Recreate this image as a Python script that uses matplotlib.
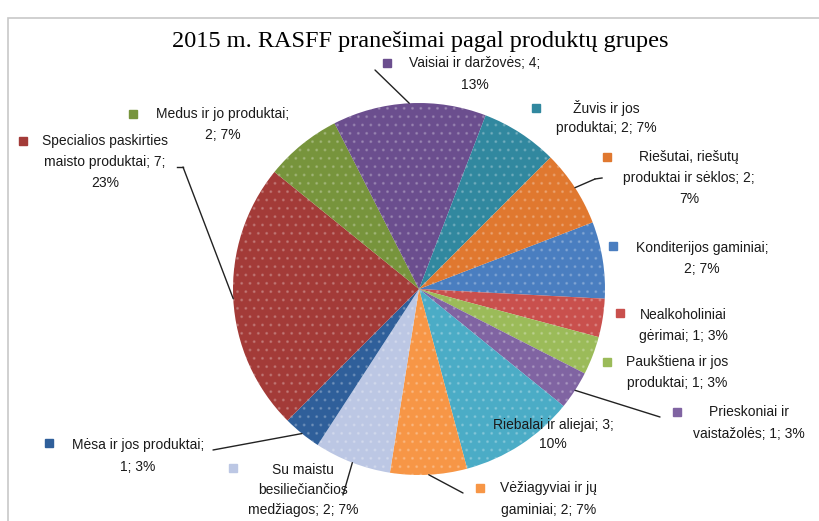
import numpy as np
import matplotlib
matplotlib.use("Agg")
import matplotlib.pyplot as plt
from matplotlib.patches import Rectangle
from matplotlib.lines import Line2D

# data (clockwise, first slice = Konditerijos gaminiai)
categories = ["Konditerijos gaminiai", "Nealkoholiniai gėrimai", "Paukštiena ir jos produktai",
              "Prieskoniai ir vaistažolės", "Riebalai ir aliejai", "Vėžiagyviai ir jų gaminiai",
              "Su maistu besiliečiančios medžiagos", "Mėsa ir jos produktai",
              "Specialios paskirties maisto produktai", "Medus ir jo produktai",
              "Vaisiai ir daržovės", "Žuvis ir jos produktai", "Riešutai, riešutų produktai ir sėklos"]
counts = [2, 1, 1, 1, 3, 2, 2, 1, 7, 2, 4, 2, 2]
colors = ["#4A7EC0", "#C9504D", "#9BBB59", "#8064A2", "#4BACC6", "#F79646",
          "#BCC7E4", "#2F5F9A", "#A33B38", "#77943C", "#6B4E8E", "#31889F", "#E0782F"]

label_lines = [
    ["Konditerijos gaminiai;", "2; 7%"],
    ["Nealkoholiniai", "gėrimai; 1; 3%"],
    ["Paukštiena ir jos", "produktai; 1; 3%"],
    ["Prieskoniai ir", "vaistažolės; 1; 3%"],
    ["Riebalai ir aliejai; 3;", "10%"],
    ["Vėžiagyviai ir jų", "gaminiai; 2; 7%"],
    ["Su maistu", "besiliečiančios", "medžiagos; 2; 7%"],
    ["Mėsa ir jos produktai;", "1; 3%"],
    ["Specialios paskirties", "maisto produktai; 7;", "23%"],
    ["Medus ir jo produktai;", "2; 7%"],
    ["Vaisiai ir daržovės; 4;", "13%"],
    ["Žuvis ir jos", "produktai; 2; 7%"],
    ["Riešutai, riešutų", "produktai ir sėklos; 2;", "7%"],
]

W, H = 820, 521
fig = plt.figure(figsize=(W / 100, H / 100), dpi=100)

def fx(x):
    return x / W

def fy(y):
    return 1 - y / H

# chart frame
fig.add_artist(Rectangle((fx(8), fy(530)), 1, fy(18) - fy(530), transform=fig.transFigure,
                         fill=False, edgecolor="#c8c8c8", lw=1.2))

fig.text(fx(420), fy(42), "2015 m. RASFF pranešimai pagal produktų grupes",
         family="Liberation Serif", fontsize=17.5, ha="center", va="center")

# pie, centre (419, 289), radius 186 px
cx, cy, r = 419, 289, 186
ax = fig.add_axes([fx(cx - r), fy(cy + r), 2 * r / W, 2 * r / H])
wedges, _ = ax.pie(counts, colors=colors, startangle=21, counterclock=False,
                   wedgeprops=dict(linewidth=0))
for w in wedges:
    w.set_hatch("..")
    w.set_edgecolor((1, 1, 1, 0.18))
    w.set_linewidth(0)
ax.set_xlim(-1, 1)
ax.set_ylim(-1, 1)
ax.axis("off")

# label layout: key square position, text centre x, first line y (pixels from top)
label_pos = [
    ((613, 246), 702, 248),
    ((620, 313), 683, 315),
    ((607, 362), 677, 362),
    ((677, 412), 749, 412),
    (None, 553, 425),
    ((480, 488), 549, 488),
    ((233, 468), 303, 470),
    ((49, 443), 138, 445),
    ((23, 141), 105, 141),
    ((133, 114), 223, 114),
    ((387, 63), 475, 63),
    ((536, 108), 606, 108),
    ((607, 157), 689, 157),
]
line_gap = [21, 21, 21, 22, 19, 22, 20, 22, 21, 21, 22, 20, 21]

for i, (sq, tx, ty) in enumerate(label_pos):
    if sq is not None:
        fig.add_artist(Rectangle((fx(sq[0] - 4), fy(sq[1] + 4)), 8 / W, 8 / H,
                                 transform=fig.transFigure, color=colors[i]))
    for k, line in enumerate(label_lines[i]):
        fig.text(fx(tx), fy(ty + k * line_gap[i]), line, family="Liberation Sans",
                 fontsize=10, ha="center", va="center", color="#1a1a1a")

# leader lines from slice mid-point to label
leaders = {10: (375, 70), 12: (595, 179), 3: (660, 417), 5: (463, 493),
           6: (343, 495), 7: (213, 450), 8: (183, 167)}
for i, (px, py) in leaders.items():
    w = wedges[i]
    mid = np.deg2rad((w.theta1 + w.theta2) / 2)
    ax.annotate("", xy=(np.cos(mid), np.sin(mid)), xycoords="data",
                xytext=(fx(px), fy(py)), textcoords="figure fraction",
                arrowprops=dict(arrowstyle="-", color="#222222", lw=1, shrinkA=0, shrinkB=0))
# short horizontal tails
fig.add_artist(Line2D([fx(183), fx(177)], [fy(167), fy(167)], transform=fig.transFigure,
                      color="#222222", lw=1))
fig.add_artist(Line2D([fx(595), fx(602)], [fy(179), fy(178)], transform=fig.transFigure,
                      color="#222222", lw=1))

fig.savefig("out.png", dpi=100)
